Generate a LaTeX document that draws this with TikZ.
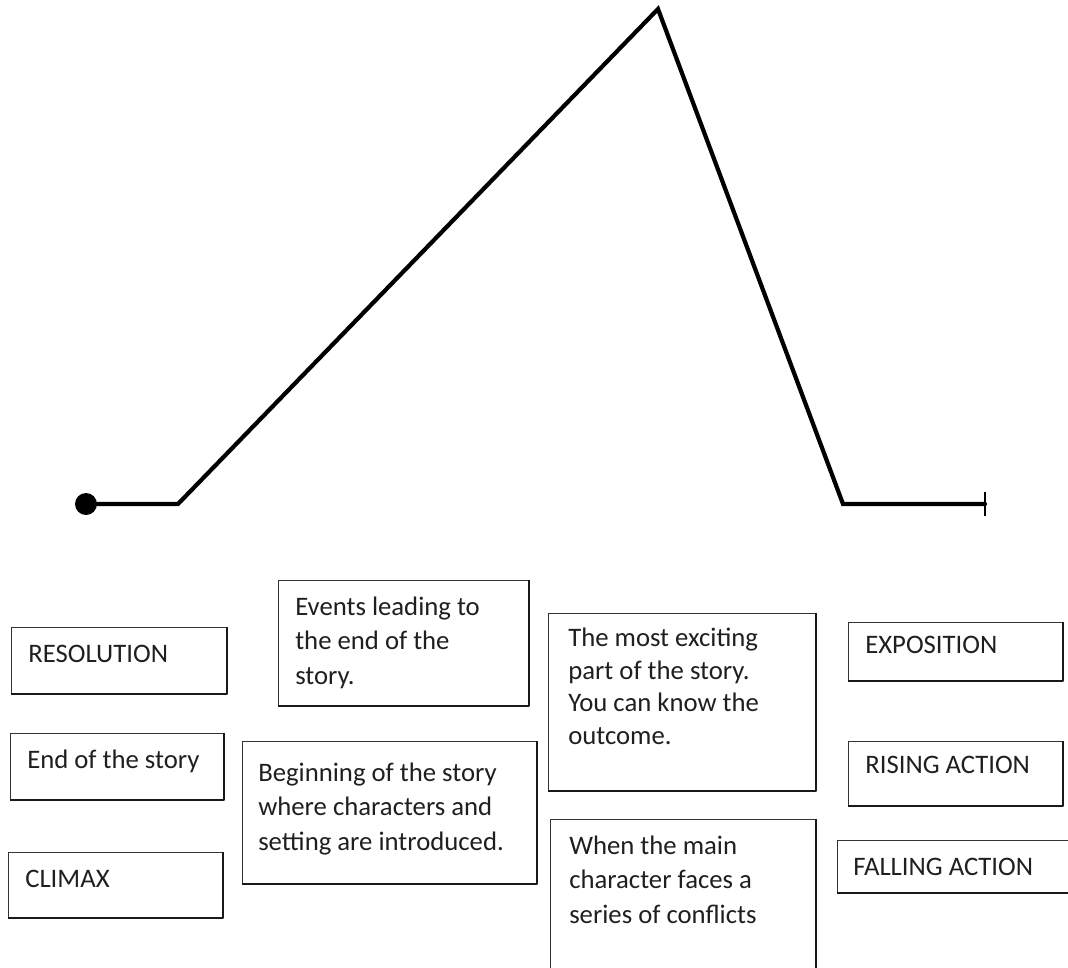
\documentclass[tikz,border=0pt]{standalone}
\usepackage{fontspec}
\setmainfont{Carlito}

\begin{document}
\begin{tikzpicture}[x=0.025cm, y=-0.025cm, line cap=round, line join=round,
    storybox/.style={draw=black!80, line width=0.8pt, inner sep=0pt, anchor=north west},
    boxtext/.style={text=black!88, font=\fontsize{19}{24.2}\selectfont, align=left, anchor=base west, inner sep=0pt},
    shadowedge/.style={draw=black!90, line width=1.8pt, line cap=butt}]

    % Define pixel length
    \def\pxlen{0.025cm}

    % Page frame
    \useasboundingbox (0,0) rectangle (1068,968);

    % Plot line
    \node[circle, fill, inner sep=0pt, minimum size=22*\pxlen] (dot) at (86,504) {};
    \coordinate (bend) at (178,504);
    \coordinate (peak) at (658,9);
    \coordinate (drop) at (843,504);
    \coordinate (finish) at (985,504);
    \draw[line width=3pt, line join=miter] (dot.center) -- (bend) -- (peak) -- (drop) -- (finish);
    \draw[line width=1.6pt, line cap=butt] (finish) ++(0,-12) -- ++(0,24);

    % Left column
    \node[storybox, minimum width=215*\pxlen, minimum height=66*\pxlen] (resbox) at (11,627) {};
    \node[storybox, minimum width=213*\pxlen, minimum height=66*\pxlen] (endbox) at (10,733) {};
    \node[storybox, minimum width=214*\pxlen, minimum height=65*\pxlen] (climaxbox) at (8,852) {};
    \node[boxtext] (restext) at (28,662) {RESOLUTION};
    \node[boxtext] (endtext) at (27,768) {End of the story};
    \node[boxtext] (climaxtext) at (25,887) {CLIMAX};

    % Second column (text placed by its last line)
    \node[storybox, minimum width=250*\pxlen, minimum height=125*\pxlen] (eventsbox) at (278,580) {};
    \node[storybox, minimum width=294*\pxlen, minimum height=142*\pxlen] (beginbox) at (242,741) {};
    \node[boxtext] (eventstext) at (295,684) {Events leading to\\the end of the\\story.};
    \node[boxtext] (begintext) at (258,850) {Beginning of the story\\where characters and\\setting are introduced.};

    % Third column
    \node[storybox, minimum width=267*\pxlen, minimum height=177*\pxlen] (excitebox) at (548,613) {};
    \node[storybox, minimum width=265*\pxlen, minimum height=175*\pxlen] (conflictbox) at (550,819) {};
    \node[boxtext, font=\fontsize{19}{23}\selectfont] (excitetext) at (568,744) {The most exciting\\part of the story.\\You can know the\\outcome.};
    \node[boxtext] (conflicttext) at (569,923) {When the main\\character faces a\\series of conflicts};

    % Right column
    \node[storybox, minimum width=214*\pxlen, minimum height=58*\pxlen] (expobox) at (848,622) {};
    \node[storybox, minimum width=214*\pxlen, minimum height=64*\pxlen] (risingbox) at (848,741) {};
    \node[storybox, minimum width=250*\pxlen, minimum height=52*\pxlen] (fallingbox) at (837,840) {};
    \node[boxtext] (expotext) at (865,653) {EXPOSITION};
    \node[boxtext] (risingtext) at (865,773) {RISING ACTION};
    \node[boxtext] (fallingtext) at (853,875) {FALLING ACTION};

    % Heavier lower and right edges
    \foreach \b in {resbox, endbox, climaxbox, eventsbox, beginbox, excitebox, conflictbox, expobox, risingbox, fallingbox}
        \draw[shadowedge] (\b.south west) -- (\b.south east) -- (\b.north east);

\end{tikzpicture}
\end{document}
